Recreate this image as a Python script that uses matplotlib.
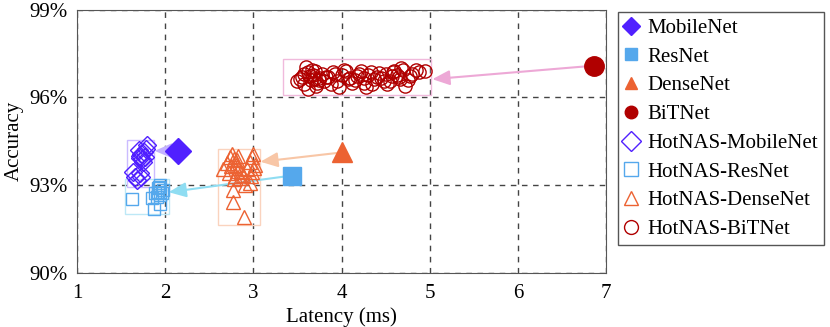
import matplotlib.pyplot as plt
from matplotlib.ticker import FuncFormatter
from matplotlib.patches import Rectangle

plt.rcParams['font.family'] = ['Liberation Serif', 'DejaVu Serif']
plt.rcParams['font.size'] = 15

# baseline models (latency ms, accuracy %)
base_names = ['MobileNet', 'ResNet', 'DenseNet', 'BiTNet']
base_lat = [2.14, 3.44, 4.01, 6.86]
base_acc = [94.18, 93.33, 94.12, 97.08]

# HotNAS searched models
hot_mobile_lat = [1.79, 1.73, 1.71, 1.77, 1.70, 1.75, 1.66, 1.71, 1.68, 1.73, 1.64, 1.76, 1.74, 1.72, 1.78]
hot_mobile_acc = [94.37, 94.08, 93.92, 93.97, 94.20, 93.80, 93.28, 93.40, 93.17, 93.28, 93.45, 94.12, 93.88, 94.00, 94.25]

hot_res_lat = [1.62, 1.87, 1.88, 1.92, 1.94, 1.92, 1.98, 1.94, 1.85, 1.94, 1.93, 1.96, 1.91]
hot_res_acc = [92.52, 92.20, 92.72, 92.89, 93.00, 92.77, 92.83, 92.66, 92.56, 92.37, 92.95, 92.72, 92.60]

hot_dense_lat = [2.77, 2.77, 2.89, 2.90, 2.96,
                 2.66, 2.70, 2.74, 2.76, 2.78, 2.80, 2.82, 2.84, 2.86, 2.72, 2.79, 2.81,
                 2.75, 2.83, 2.88, 2.93, 2.96, 2.98, 3.00, 3.02, 2.99, 2.97, 3.01, 2.85, 2.78]
hot_dense_acc = [92.83, 92.43, 91.92, 93.00, 93.07,
                 93.55, 93.75, 93.95, 94.05, 93.90, 93.70, 93.85, 93.60, 93.45, 93.40, 93.30, 93.50,
                 93.65, 94.00, 93.35, 93.55, 93.80, 93.95, 94.08, 93.70, 93.45, 93.30, 93.60, 93.25, 93.20]

hot_bit_lat = [3.50, 3.55, 3.58, 3.62, 3.65, 3.68, 3.70, 3.72, 3.75, 3.78, 3.80, 3.62, 3.66, 3.71,
               3.85, 3.90, 3.95, 4.00, 4.05, 4.10, 3.88, 3.97, 4.03,
               4.15, 4.20, 4.25, 4.30, 4.35, 4.40, 4.22, 4.28, 4.33,
               4.45, 4.50, 4.55, 4.60, 4.65, 4.70, 4.75, 4.52, 4.58, 4.63, 4.68, 4.48, 4.80, 4.85, 4.95, 4.72, 3.60, 4.12,
               3.53, 3.64, 3.74, 3.82, 3.93, 4.07, 4.18, 4.37, 4.42, 4.57, 4.66, 4.78, 4.88, 3.57, 3.69, 4.26]
hot_bit_acc = [96.55, 96.70, 96.45, 96.85, 96.60, 96.75, 96.90, 96.50, 96.65, 96.80, 96.55, 96.30, 96.95, 96.40,
               96.70, 96.85, 96.55, 96.75, 96.90, 96.65, 96.45, 96.35, 96.95,
               96.60, 96.80, 96.50, 96.75, 96.45, 96.70, 96.90, 96.35, 96.85,
               96.65, 96.80, 96.55, 96.90, 96.70, 96.95, 96.60, 96.45, 96.85, 96.75, 97.00, 96.55, 96.80, 96.95, 96.90, 96.40, 97.05, 96.50,
               96.62, 96.72, 96.58, 96.68, 96.78, 96.62, 96.72, 96.62, 96.82, 96.72, 96.62, 96.72, 96.85, 96.78, 96.62, 96.66]

colors = ['#5020FF', '#55A8EC', '#EC6232', '#B00000']
box_colors = ['#CBBCFF', '#BDE8F6', '#FAD3BE', '#F0BADC']
arrow_colors = ['#C4B2FF', '#8FDDF2', '#F8C6A6', '#EDA8D6']
filled_markers = ['D', 's', '^', 'o']
filled_sizes = [13, 13, 15, 14]
hollow_sizes = [9, 8.5, 10, 9.5]

# search-space boxes (x0, y0, x1, y1) and arrow targets
boxes = [(1.57, 92.95, 1.87, 94.55), (1.55, 92.0, 2.04, 93.2),
         (2.60, 91.63, 3.07, 94.22), (3.34, 96.08, 5.02, 97.30)]
targets = [(1.88, 94.17), (2.04, 92.76), (3.08, 93.80), (5.03, 96.62)]

hot_lat = [hot_mobile_lat, hot_res_lat, hot_dense_lat, hot_bit_lat]
hot_acc = [hot_mobile_acc, hot_res_acc, hot_dense_acc, hot_bit_acc]

fig = plt.figure(figsize=(8.3, 3.27), dpi=100)
ax = fig.add_axes([77 / 830, 1 - 273 / 327, (606 - 77) / 830, (273 - 9.5) / 327])

for i in range(4):
    x0, y0, x1, y1 = boxes[i]
    ax.add_patch(Rectangle((x0, y0), x1 - x0, y1 - y0, fill=False,
                           edgecolor=box_colors[i], linewidth=1.0, zorder=2))
    ax.annotate('', xy=targets[i], xytext=(base_lat[i], base_acc[i]),
                arrowprops=dict(arrowstyle='-|>,head_length=0.7,head_width=0.3',
                                color=arrow_colors[i], linewidth=1.5,
                                shrinkA=0, shrinkB=0), zorder=3)
for i in range(4):
    ax.plot([base_lat[i]], [base_acc[i]], linestyle='none', marker=filled_markers[i],
            markersize=filled_sizes[i], color=colors[i], zorder=5)
for i in range(4):
    ax.plot(hot_lat[i], hot_acc[i], linestyle='none', marker=filled_markers[i],
            markersize=hollow_sizes[i], markerfacecolor='none', markeredgecolor=colors[i],
            markeredgewidth=1.0, zorder=4)

ax.set_xlim(1, 7)
ax.set_ylim(90, 99)
ax.set_xticks([1, 2, 3, 4, 5, 6, 7])
ax.set_yticks([90, 93, 96, 99])
ax.yaxis.set_major_formatter(FuncFormatter(lambda v, p: '%d%%' % v))
ax.tick_params(length=0)
ax.tick_params(axis='x', pad=8)
ax.tick_params(axis='y', pad=7)
ax.grid(True, linestyle=(0, (4, 4)), color='#444444', linewidth=1.0, zorder=1)
ax.set_axisbelow(True)
for s in ax.spines.values():
    s.set_color('#555555')
ax.set_xlabel('Latency (ms)', labelpad=3)
ax.set_ylabel('Accuracy', labelpad=4)

leg_handles = []
for i in range(4):
    leg_handles.append(plt.Line2D([], [], linestyle='none', marker=filled_markers[i],
                                  markersize=9, color=colors[i]))
for i in range(4):
    leg_handles.append(plt.Line2D([], [], linestyle='none', marker=filled_markers[i],
                                  markersize=10, markerfacecolor='none',
                                  markeredgecolor=colors[i], markeredgewidth=1.0))
labels = base_names + ['HotNAS-' + n for n in base_names]
leg = fig.legend(leg_handles, labels, loc='upper left',
                 bbox_to_anchor=(618 / 830, 1 - 12 / 327), borderaxespad=0,
                 fancybox=False, edgecolor='#555555', framealpha=1, handlelength=0.6,
                 handletextpad=0.5, labelspacing=0.44, borderpad=0.3, fontsize=15)
leg.get_frame().set_linewidth(1.0)

fig.savefig('out.png', dpi=100)
